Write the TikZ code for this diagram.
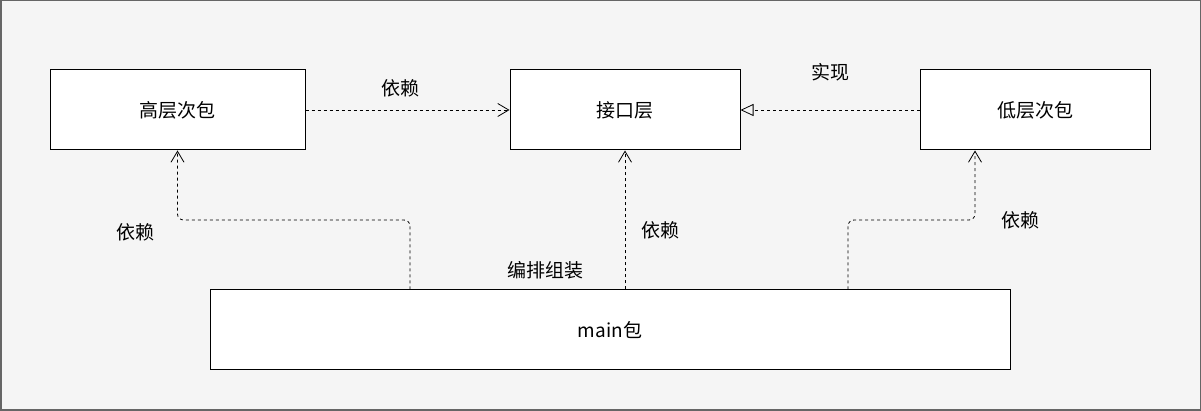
\documentclass[tikz,border=0pt]{standalone}
\usepackage{fontspec}
\setmainfont{Noto Sans CJK SC}
\usetikzlibrary{arrows.meta,positioning}

\begin{document}
\begin{tikzpicture}[
    x=1pt, y=1pt,
    pkg/.style={draw, line width=1pt, fill=white, minimum height=80pt, inner sep=0pt, font=\fontsize{19}{21}\selectfont},
    dep/.style={dash pattern=on 3pt off 3pt, line width=0.8pt, -{Straight Barb[length=11pt,width=13pt]}},
    impl/.style={dash pattern=on 3pt off 3pt, line width=0.8pt, -{Triangle[open,length=13pt,width=12pt]}},
    lbl/.style={font=\fontsize{19}{21}\selectfont},
]
    % background
    \draw[fill=black!4, draw=black!60, line width=1.5pt] (0.75,0.75) rectangle (1200.25,410.25);
    \useasboundingbox (0,0) rectangle (1201,411);

    \node[pkg, minimum width=255pt] (high) at (177.5,301) {高层次包};
    \node[pkg, minimum width=230pt] (iface) at (625,301) {接口层};
    \node[pkg, minimum width=230pt] (low) at (1035,301) {低层次包};
    \node[pkg, minimum width=800pt] (main) at (610,81) {main包};

    \draw[dep] (high.east) -- (iface.west);
    \draw[impl] (low.west) -- (iface.east);

    \coordinate (mleft) at ([xshift=-200pt]main.north);
    \coordinate (mright) at ([xshift=238pt]main.north);
    \draw[dep, rounded corners=6pt] (mleft) |- (high.south |- 0,191) -- (high.south);
    \draw[dep] (main.north -| iface.south) -- (iface.south);
    \draw[dep, rounded corners=6pt] (mright) |- ([xshift=-60pt]low.south |- 0,191) -- ([xshift=-60pt]low.south);

    \node[lbl] (ldep1) at (400,323) {依赖};
    \node[lbl] (limpl) at (830,339) {实现};
    \node[lbl] (ldep2) at (135,179) {依赖};
    \node[lbl] (ldep3) at (660,181) {依赖};
    \node[lbl] (ldep4) at (1020,191) {依赖};
    \node[lbl] (lasm) at (545,141) {编排组装};
\end{tikzpicture}
\end{document}
